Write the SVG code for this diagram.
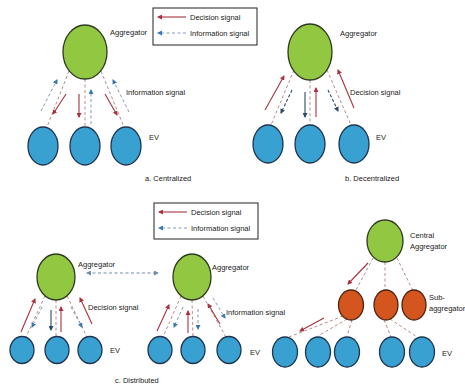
<svg xmlns="http://www.w3.org/2000/svg" width="465" height="385" viewBox="0 0 465 385">
  <defs>
    <style>
      text { font-family: "Liberation Sans", Arial, sans-serif; font-size: 7.5px; fill: #222; }
      .agg { fill: #92C841; stroke: #2F3A22; stroke-width: 1.3; }
      .ev { fill: #38A1D2; stroke: #1E3550; stroke-width: 1.3; }
      .sub { fill: #D4561E; stroke: #4E2410; stroke-width: 1.3; }
      .link { stroke: #B98C8C; stroke-width: 1; stroke-dasharray: 3 2.5; fill: none; }
      .dec { stroke: #A8323E; stroke-width: 1.1; fill: none; marker-end: url(#hRed); }
      .info { stroke: #7F9BB8; stroke-width: 1; stroke-dasharray: 3 2.5; fill: none; marker-end: url(#hBlue); }
      .down { stroke: #2E4A68; stroke-width: 1.1; fill: none; marker-end: url(#hNavy); }
      .box { fill: #fff; stroke: #222; stroke-width: 1; }
    </style>
    <marker id="hRed" viewBox="0 0 10 10" refX="8" refY="5" markerWidth="5" markerHeight="5" markerUnits="userSpaceOnUse" orient="auto">
      <path d="M0,0 L10,5 L0,10 z" fill="#A8323E"/>
    </marker>
    <marker id="hBlue" viewBox="0 0 10 10" refX="8" refY="5" markerWidth="5" markerHeight="5" markerUnits="userSpaceOnUse" orient="auto">
      <path d="M0,0 L10,5 L0,10 z" fill="#3A78B0"/>
    </marker>
    <marker id="hNavy" viewBox="0 0 10 10" refX="8" refY="5" markerWidth="5" markerHeight="5" markerUnits="userSpaceOnUse" orient="auto">
      <path d="M0,0 L10,5 L0,10 z" fill="#2E4A68"/>
    </marker>
    <marker id="hGrey" viewBox="0 0 10 10" refX="8" refY="5" markerWidth="5" markerHeight="5" markerUnits="userSpaceOnUse" orient="auto-start-reverse">
      <path d="M0,0 L10,5 L0,10 z" fill="#6F8CA8"/>
    </marker>
  </defs>

  <rect width="465" height="385" fill="#fff"/>

  <!-- Legend, top -->
  <g id="legend-top">
    <rect class="box" x="153" y="8" width="104" height="37"/>
    <line x1="186" y1="17" x2="158" y2="17" class="dec"/>
    <line x1="186" y1="33" x2="158" y2="33" class="info"/>
    <text x="190" y="20">Decision signal</text>
    <text x="190" y="36">Information signal</text>
  </g>

  <!-- Legend, bottom -->
  <g id="legend-bottom">
    <rect class="box" x="154" y="203" width="104" height="36"/>
    <line x1="187" y1="212" x2="159" y2="212" class="dec"/>
    <line x1="187" y1="228" x2="159" y2="228" class="info"/>
    <text x="191" y="215">Decision signal</text>
    <text x="191" y="231">Information signal</text>
  </g>

  <!-- Connectors -->
  <g id="connectors">
    <!-- a. centralized -->
    <line class="link" x1="69" y1="71" x2="47" y2="127"/>
    <line class="info" x1="41" y1="111" x2="57" y2="80"/>
    <line class="dec" x1="66" y1="94" x2="53" y2="114"/>
    <line class="link" x1="85" y1="79" x2="85" y2="127"/>
    <line class="dec" x1="79" y1="94" x2="79" y2="117"/>
    <line class="info" x1="91" y1="124" x2="91" y2="90"/>
    <line class="link" x1="101" y1="71" x2="124" y2="127"/>
    <line class="dec" x1="105" y1="94" x2="117" y2="115"/>
    <line class="info" x1="129" y1="112" x2="113" y2="80"/>

    <!-- b. decentralized -->
    <line class="link" x1="294" y1="70" x2="271" y2="125"/>
    <line class="dec" x1="265" y1="110" x2="284" y2="76"/>
    <line class="down" x1="292" y1="90" x2="281" y2="113" stroke-dasharray="3 2"/>
    <line class="link" x1="310" y1="80" x2="310" y2="125"/>
    <line class="down" x1="305" y1="92" x2="305" y2="117"/>
    <line class="dec" x1="316" y1="117" x2="316" y2="88"/>
    <line class="link" x1="327" y1="70" x2="351" y2="125"/>
    <line class="down" x1="328" y1="90" x2="338" y2="111" stroke-dasharray="3 2"/>
    <line class="dec" x1="354" y1="108" x2="338" y2="70"/>

    <!-- c. distributed, left cluster -->
    <line class="link" x1="45" y1="296" x2="26" y2="337"/>
    <line class="dec" x1="21" y1="332" x2="35" y2="299"/>
    <line class="info" x1="42" y1="307" x2="32" y2="327"/>
    <line class="link" x1="56" y1="300" x2="56" y2="337"/>
    <line class="down" x1="51" y1="310" x2="51" y2="330"/>
    <line class="dec" x1="61" y1="332" x2="61" y2="307"/>
    <line class="link" x1="67" y1="296" x2="87" y2="337"/>
    <line class="info" x1="71" y1="307" x2="82" y2="327"/>
    <line class="dec" x1="92" y1="324" x2="80" y2="298"/>

    <!-- peer link between aggregators -->
    <line x1="87" y1="273" x2="158" y2="273" stroke="#6F8CA8" stroke-width="1" stroke-dasharray="3 2.5" marker-start="url(#hGrey)" marker-end="url(#hGrey)"/>

    <!-- c. distributed, middle cluster -->
    <line class="link" x1="181" y1="296" x2="163" y2="337"/>
    <line class="dec" x1="157" y1="331" x2="169" y2="305"/>
    <line class="info" x1="183" y1="307" x2="174" y2="327"/>
    <line class="link" x1="192" y1="300" x2="193" y2="337"/>
    <line class="dec" x1="188" y1="333" x2="188" y2="311"/>
    <line class="info" x1="198" y1="309" x2="198" y2="329"/>
    <line class="link" x1="203" y1="296" x2="226" y2="337"/>
    <line class="dec" x1="220" y1="324" x2="208" y2="304"/>
    <line class="info" x1="213" y1="298" x2="225" y2="318"/>

    <!-- c. hierarchy -->
    <line class="link" x1="373" y1="258" x2="356" y2="290"/>
    <line class="link" x1="385" y1="262" x2="385" y2="290"/>
    <line class="link" x1="397" y1="258" x2="413" y2="291"/>
    <line class="dec" x1="368" y1="263" x2="348" y2="284"/>
    <line class="link" x1="343" y1="316" x2="289" y2="337"/>
    <line class="link" x1="347" y1="319" x2="318" y2="336"/>
    <line class="link" x1="352" y1="320" x2="347" y2="336"/>
    <line class="dec" x1="324" y1="318" x2="300" y2="331"/>
    <line class="link" x1="384" y1="320" x2="391" y2="337"/>
    <line class="link" x1="390" y1="319" x2="417" y2="337"/>
  </g>

  <!-- a. Centralized -->
  <g id="a-aggregator">
    <ellipse class="agg" cx="85" cy="52" rx="22" ry="27"/>
    <text x="110" y="35">Aggregator</text>
  </g>
  <g id="a-ev1"><ellipse class="ev" cx="43" cy="146" rx="15" ry="19"/></g>
  <g id="a-ev2"><ellipse class="ev" cx="85" cy="146" rx="15" ry="19"/></g>
  <g id="a-ev3">
    <ellipse class="ev" cx="126" cy="146" rx="15" ry="19"/>
    <text x="149" y="140">EV</text>
  </g>
  <text x="126" y="95">Information signal</text>
  <text x="145" y="181">a. Centralized</text>

  <!-- b. Decentralized -->
  <g id="b-aggregator">
    <ellipse class="agg" cx="310" cy="52" rx="22" ry="28"/>
    <text x="340" y="36">Aggregator</text>
  </g>
  <g id="b-ev1"><ellipse class="ev" cx="268" cy="144" rx="15" ry="19"/></g>
  <g id="b-ev2"><ellipse class="ev" cx="310" cy="144" rx="15" ry="19"/></g>
  <g id="b-ev3">
    <ellipse class="ev" cx="354" cy="144" rx="15" ry="19"/>
    <text x="376" y="140">EV</text>
  </g>
  <text x="350" y="95">Decision signal</text>
  <text x="345" y="181">b. Decentralized</text>

  <!-- c. Distributed: left cluster -->
  <g id="c-aggregator-left">
    <ellipse class="agg" cx="56" cy="277" rx="19" ry="23"/>
    <text x="78" y="267">Aggregator</text>
  </g>
  <g id="c-ev1"><ellipse class="ev" cx="22" cy="350" rx="12" ry="13.5"/></g>
  <g id="c-ev2"><ellipse class="ev" cx="57" cy="350" rx="12" ry="13.5"/></g>
  <g id="c-ev3">
    <ellipse class="ev" cx="90" cy="350" rx="12" ry="13.5"/>
    <text x="110" y="353">EV</text>
  </g>
  <text x="88" y="310">Decision signal</text>

  <!-- c. Distributed: middle cluster -->
  <g id="c-aggregator-mid">
    <ellipse class="agg" cx="192" cy="277" rx="19" ry="23"/>
    <text x="212" y="270">Aggregator</text>
  </g>
  <g id="c-ev4"><ellipse class="ev" cx="160" cy="350" rx="12" ry="13.5"/></g>
  <g id="c-ev5"><ellipse class="ev" cx="193" cy="350" rx="12" ry="13.5"/></g>
  <g id="c-ev6">
    <ellipse class="ev" cx="229" cy="350" rx="12" ry="13.5"/>
    <text x="250" y="355">EV</text>
  </g>
  <text x="226" y="315">Information signal</text>
  <text x="115" y="383">c. Distributed</text>

  <!-- Hierarchy -->
  <g id="central-aggregator">
    <ellipse class="agg" cx="385" cy="241" rx="18" ry="21"/>
    <text x="410" y="238">Central</text>
    <text x="410" y="249">Aggregator</text>
  </g>
  <g id="sub-aggregator-1"><ellipse class="sub" cx="351" cy="305" rx="12.5" ry="15"/></g>
  <g id="sub-aggregator-2"><ellipse class="sub" cx="386" cy="305" rx="12" ry="15"/></g>
  <g id="sub-aggregator-3">
    <ellipse class="sub" cx="414" cy="305" rx="12" ry="15"/>
    <text x="429" y="300">Sub-</text>
    <text x="429" y="311">aggregator</text>
  </g>
  <g id="h-ev1"><ellipse class="ev" cx="285" cy="352" rx="12.5" ry="15"/></g>
  <g id="h-ev2"><ellipse class="ev" cx="318" cy="352" rx="12.5" ry="15"/></g>
  <g id="h-ev3"><ellipse class="ev" cx="347" cy="352" rx="12.5" ry="15"/></g>
  <g id="h-ev4"><ellipse class="ev" cx="392" cy="352" rx="12.5" ry="15"/></g>
  <g id="h-ev5">
    <ellipse class="ev" cx="422" cy="352" rx="12.5" ry="15"/>
    <text x="442" y="356">EV</text>
  </g>
</svg>
